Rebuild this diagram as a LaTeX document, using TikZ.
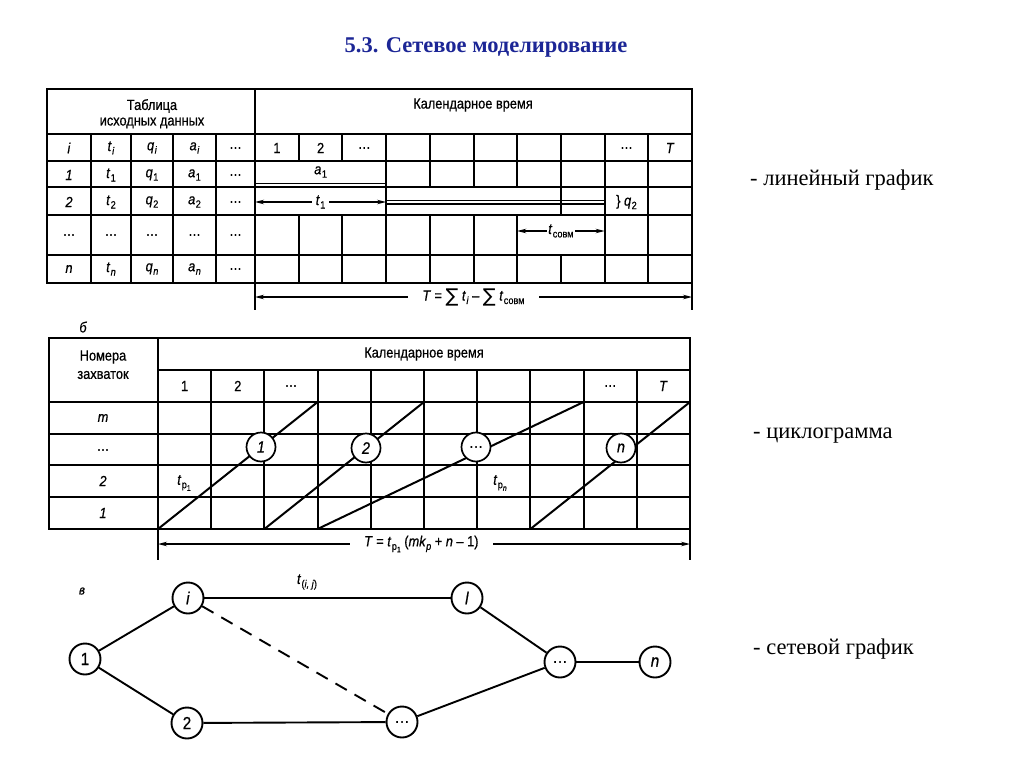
\documentclass[tikz,border=0pt]{standalone}
\usepackage{fontspec}
\setmainfont{Liberation Serif}
\newfontfamily\df[FakeStretch=0.87,FakeBold=0.6]{Liberation Sans}
\newfontfamily\symf{DejaVu Sans}
\usetikzlibrary{arrows.meta}
\definecolor{titleblue}{RGB}{28,38,150}
\newcommand\vv[1]{\textit{#1}}
\newcommand\subx[1]{\raisebox{-3.5pt}{\fontsize{10.5}{11}\selectfont #1}}
\newcommand\subsubx[1]{\raisebox{-2.5pt}{\fontsize{8}{9}\selectfont #1}}
\newcommand\sbx[2]{\textit{#1}\kern0.5pt\subx{#2}}
\newcommand\bigsum{\raisebox{-1.5pt}{\symf\fontsize{19}{19}\selectfont ∑}}
\tikzset{
  gridline/.style={line width=2pt},
  dblline/.style={line width=1.3pt},
  lbl/.style={font=\df\fontsize{14.7}{16}\selectfont, inner sep=1pt},
  dimarrow/.style={line width=1.3pt, {Stealth[length=9pt,width=4.5pt]}-{Stealth[length=9pt,width=4.5pt]}},
  cyccirc/.style={circle, draw, line width=1.7pt, fill=white, minimum size=29pt, inner sep=0pt, font=\df\fontsize{16.5}{18}\selectfont},
  netcirc/.style={circle, draw, line width=1.9pt, fill=white, minimum size=31pt, inner sep=0pt, font=\df\fontsize{17.5}{19}\selectfont},
  netedge/.style={line width=1.9pt},
  sidelbl/.style={font=\fontsize{22.5}{26}\selectfont, anchor=west, inner sep=0pt},
}
\begin{document}
\begin{tikzpicture}[x=1pt,y=-1pt]
\useasboundingbox (0,0) rectangle (1024,767);
\fill[white] (0,0) rectangle (1024,767);

% title
\node[font=\bfseries\fontsize{22.5}{26}\selectfont, text=titleblue] (title) at (486,47) {5.3. Сетевое моделирование};

% ---------------- table a ----------------
\draw[gridline] (47,89) rectangle (692,283);
\draw[gridline] (47,134) -- (692,134);
\foreach \y in {161,187,215,255} \draw[gridline] (47,\y) -- (692,\y);
\foreach \x in {91,131,173,216} \draw[gridline] (\x,134) -- (\x,283);
\draw[gridline] (255,89) -- (255,310);
\draw[gridline] (692,283) -- (692,310);
\foreach \k/\a/\b in {1/134/161, 1/215/283, 2/134/161, 2/215/283, 3/134/283,
  4/134/187, 4/215/283, 5/134/187, 5/215/283, 6/134/187, 6/215/283,
  7/134/215, 7/255/283, 8/134/283, 9/134/283}
  \draw[gridline] ({255+43.7*\k},\a) -- ({255+43.7*\k},\b);
\draw[dblline] (255,183.5) -- (386.1,183.5);
\draw[dblline] (386.1,200.5) -- (604.6,200.5);
\draw[dblline] (386.1,204) -- (604.6,204);

\node[lbl] (tab1) at (152,106) {Таблица};
\node[lbl] (tab2) at (152,123) {исходных данных};
\node[lbl] (kal1) at (473,105) {Календарное время};

\node[lbl] (h1) at (69,148) {\vv{i}};
\node[lbl] (h2) at (111,148) {\sbx{t}{\textit{i}}};
\node[lbl] (h3) at (152,148) {\sbx{q}{\textit{i}}};
\node[lbl] (h4) at (194.5,148) {\sbx{a}{\textit{i}}};
\node[lbl] (h5) at (235.5,148) {\dots};
\node[lbl] (c1) at (276.9,148) {1};
\node[lbl] (c2) at (320.6,148) {2};
\node[lbl] (c3) at (364.3,148) {\dots};
\node[lbl] (c9) at (626.5,148) {\dots};
\node[lbl] (c10) at (670.2,148) {\vv{T}};

\node[lbl] (r11) at (69,175) {\vv{1}};
\node[lbl] (r12) at (111,175) {\sbx{t}{1}};
\node[lbl] (r13) at (152,175) {\sbx{q}{1}};
\node[lbl] (r14) at (194.5,175) {\sbx{a}{1}};
\node[lbl] (r15) at (235.5,175) {\dots};
\node[lbl] (a1) at (320.6,172) {\sbx{a}{1}};

\node[lbl] (r21) at (69,202) {\vv{2}};
\node[lbl] (r22) at (111,202) {\sbx{t}{2}};
\node[lbl] (r23) at (152,202) {\sbx{q}{2}};
\node[lbl] (r24) at (194.5,202) {\sbx{a}{2}};
\node[lbl] (r25) at (235.5,202) {\dots};
\node[lbl] (q2) at (626.5,202) {\} \sbx{q}{2}};

\node[lbl] (r31) at (69,235) {\dots};
\node[lbl] (r32) at (111,235) {\dots};
\node[lbl] (r33) at (152,235) {\dots};
\node[lbl] (r34) at (194.5,235) {\dots};
\node[lbl] (r35) at (235.5,235) {\dots};

\node[lbl] (r41) at (69,269) {\vv{n}};
\node[lbl] (r42) at (111,269) {\sbx{t}{\textit{n}}};
\node[lbl] (r43) at (152,269) {\sbx{q}{\textit{n}}};
\node[lbl] (r44) at (194.5,269) {\sbx{a}{\textit{n}}};
\node[lbl] (r45) at (235.5,269) {\dots};

\coordinate (t1a) at (255,202);
\coordinate (t1b) at (386.1,202);
\draw[dimarrow] (t1a) -- node[lbl, fill=white, inner xsep=4pt] (t1lbl) {\sbx{t}{1}} (t1b);
\coordinate (tsa) at (517.2,231);
\coordinate (tsb) at (604.6,231);
\draw[dimarrow] (tsa) -- node[lbl, fill=white] (tslbl) {\sbx{t}{совм}} (tsb);
\coordinate (Ta) at (255,297);
\coordinate (Tb) at (692,297);
\draw[dimarrow] (Ta) -- node[lbl, fill=white, inner xsep=14pt, inner ysep=0pt] (Tlbl) {\vv{T} = \bigsum\ \sbx{t}{\textit{i}} – \bigsum\ \sbx{t}{совм}} (Tb);

% ---------------- table b (cyclogram) ----------------
\node[lbl, font=\df\itshape\fontsize{14.7}{16}\selectfont] (blabel) at (83,327) {б};
\draw[gridline] (49,338) rectangle (690,529);
\draw[gridline] (158,338) -- (158,560);
\draw[gridline] (690,529) -- (690,560);
\draw[gridline] (158,370) -- (690,370);
\foreach \y in {402,434,465,497} \draw[gridline] (49,\y) -- (690,\y);
\foreach \k in {1,...,9} \draw[gridline] ({158+53.2*\k},370) -- ({158+53.2*\k},529);

\node[lbl] (nom1) at (103,357) {Номера};
\node[lbl] (nom2) at (103,375) {захваток};
\node[lbl] (kal2) at (424,354) {Календарное время};
\node[lbl] (b1) at (184.6,386) {1};
\node[lbl] (b2) at (237.8,386) {2};
\node[lbl] (b3) at (291,386) {\dots};
\node[lbl] (b9) at (610.2,386) {\dots};
\node[lbl] (b10) at (663.4,386) {\vv{T}};
\node[lbl] (zm) at (103,418) {\vv{m}};
\node[lbl] (zd) at (103,450) {\dots};
\node[lbl] (z2) at (103,481) {\vv{2}};
\node[lbl] (z1) at (103,513) {\vv{1}};

\coordinate (d1s) at (158,529);   \coordinate (d1e) at (317.6,402);
\coordinate (d2s) at (264.4,529); \coordinate (d2e) at (424,402);
\coordinate (d3s) at (317.6,529); \coordinate (d3e) at (583.6,402);
\coordinate (d4s) at (530.4,529); \coordinate (d4e) at (690,402);
\draw[gridline] (d1s) -- (d1e);
\draw[gridline] (d2s) -- (d2e);
\draw[gridline] (d3s) -- (d3e);
\draw[gridline] (d4s) -- (d4e);
\node[cyccirc] (k1) at (261,447) {\vv{1}};
\node[cyccirc] (k2) at (366,448) {\vv{2}};
\node[cyccirc] (k3) at (476,447) {\dots};
\node[cyccirc] (k4) at (621,448) {\vv{n}};
\node[lbl] (tp1) at (184,483) {\sbx{t}{p\subsubx{1}}};
\node[lbl] (tpn) at (500,483) {\sbx{t}{p\subsubx{\textit{n}}}};

\coordinate (Ca) at (158,544);
\coordinate (Cb) at (690,544);
\draw[dimarrow] (Ca) -- node[lbl, fill=white, inner xsep=14pt, pos=0.495] (Clbl) {\vv{T} = \sbx{t}{p\subsubx{1}} (\textit{mk}\subx{\textit{p}} + \textit{n} – 1)} (Cb);

% ---------------- network ----------------
\node[lbl, font=\df\itshape\fontsize{13}{15}\selectfont] (vlabel) at (82,591) {в};
\node[netcirc] (n1) at (85,659) {1};
\node[netcirc] (ni) at (188,598) {\vv{i}};
\node[netcirc] (n2) at (187,723) {2};
\node[netcirc] (nd1) at (402,722) {\dots};
\node[netcirc] (nl) at (467,598) {\vv{l}};
\node[netcirc] (nd2) at (560,662) {\dots};
\node[netcirc] (nn) at (655,662) {\vv{n}};
\draw[netedge] (n1) -- (ni);
\draw[netedge] (n1) -- (n2);
\draw[netedge] (ni) -- (nl);
\draw[netedge, dash pattern=on 13pt off 9pt] (ni) -- (nd1);
\draw[netedge] (n2) -- (nd1);
\draw[netedge] (nl) -- (nd2);
\draw[netedge] (nd1) -- (nd2);
\draw[netedge] (nd2) -- (nn);
\node[lbl] (tij) at (307,582) {\sbx{t}{(\textit{i, j})}};

% ---------------- side labels ----------------
\node[sidelbl] (s1) at (750,180) {- линейный график};
\node[sidelbl] (s2) at (753,436) {- циклограмма};
\node[sidelbl] (s3) at (753,649) {- сетевой график};
\end{tikzpicture}
\end{document}
